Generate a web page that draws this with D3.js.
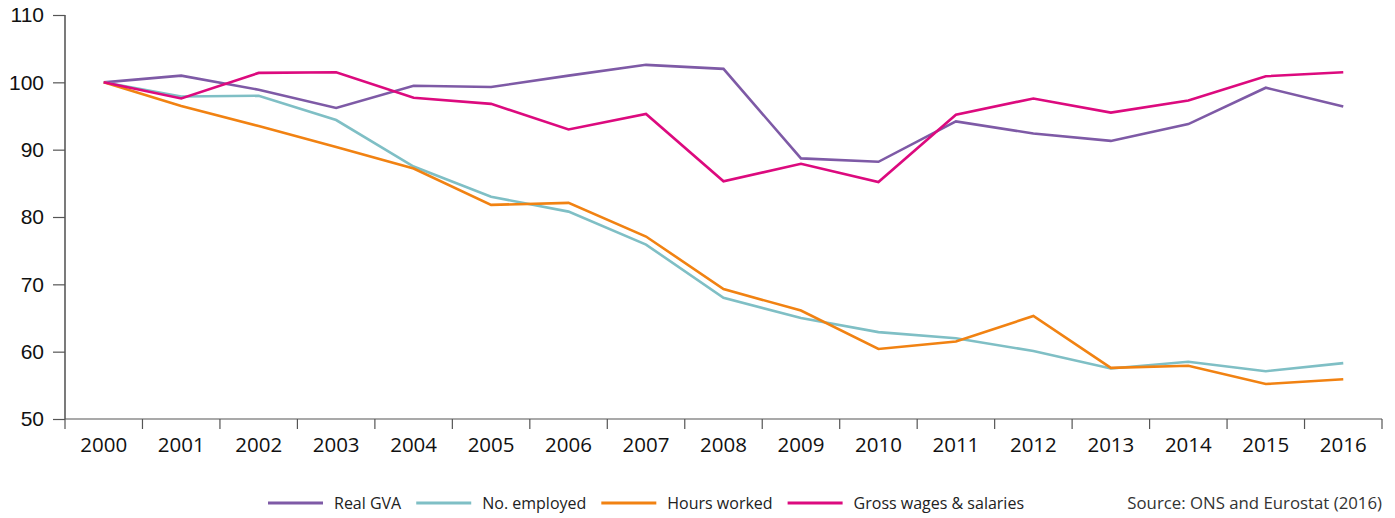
<!DOCTYPE html>
<html>
<head>
<meta charset="utf-8">
<script src="https://cdn.jsdelivr.net/npm/d3@7"></script>
<style>
  html, body { margin: 0; padding: 0; background: #fff; }
  svg { display: block; font-family: "Open Sans", "Noto Sans", sans-serif; }
</style>
</head>
<body>
<svg id="chart" width="1395" height="518"></svg>
<script>
// Index values, 2000 = 100
const years = ["2000","2001","2002","2003","2004","2005","2006","2007","2008",
               "2009","2010","2011","2012","2013","2014","2015","2016"];
const realGVA     = [100, 101.0, 98.9, 96.2, 99.5, 99.3, 101.0, 102.6, 102.0, 88.7, 88.2, 94.2, 92.4, 91.3, 93.8, 99.2, 96.4];
const noEmployed  = [100, 97.9, 98.0, 94.4, 87.5, 83.0, 80.8, 75.9, 68.0, 65.0, 62.9, 62.0, 60.1, 57.5, 58.5, 57.1, 58.3];
const hoursWorked = [100, 96.5, 93.5, 90.4, 87.2, 81.8, 82.1, 77.1, 69.3, 66.1, 60.4, 61.5, 65.3, 57.6, 57.9, 55.2, 55.9];
const grossWages  = [100, 97.6, 101.4, 101.5, 97.7, 96.8, 93.0, 95.3, 85.3, 87.9, 85.2, 95.2, 97.6, 95.5, 97.3, 100.9, 101.5];
const yTicks = [50, 60, 70, 80, 90, 100, 110];
const seriesNames = ["Real GVA", "No. employed", "Hours worked", "Gross wages & salaries"];
const sourceNote = "Source: ONS and Eurostat (2016)";

const series = [
  { name: seriesNames[0], values: realGVA,     color: "#7e5aa6" },
  { name: seriesNames[1], values: noEmployed,  color: "#7fbfc5" },
  { name: seriesNames[2], values: hoursWorked, color: "#f18212" },
  { name: seriesNames[3], values: grossWages,  color: "#dc0a7e" }
];

const svg = d3.select("#chart");
const plotLeft = 65, plotRight = 1382, plotTop = 15, plotBottom = 419;

const x = d3.scaleBand().domain(years).range([plotLeft, plotRight]).paddingInner(0).paddingOuter(0);
const y = d3.scaleLinear().domain([50, 110]).range([plotBottom, plotTop]);

// Y axis
const yAxis = svg.append("g").attr("transform", `translate(${plotLeft},0)`)
  .call(d3.axisLeft(y).tickValues(yTicks).tickSize(12).tickPadding(9).tickFormat(d3.format("d")));
yAxis.select(".domain").attr("stroke", "#222").attr("stroke-width", 1.2).attr("d", `M0,${plotTop}V${plotBottom}`);
yAxis.selectAll(".tick line").attr("stroke", "#555").attr("stroke-width", 1.2);
yAxis.selectAll(".tick text").attr("fill", "#111").style("font-size", "21px");

// X axis: ticks sit on category boundaries
const xAxisG = svg.append("g").attr("transform", `translate(0,${plotBottom})`);
xAxisG.append("line").attr("x1", plotLeft).attr("x2", plotRight).attr("y1", 0).attr("y2", 0)
  .attr("stroke", "#555").attr("stroke-width", 1.2);
const boundaries = years.map(d => x(d)).concat([x(years[years.length - 1]) + x.bandwidth()]);
xAxisG.selectAll("line.tick").data(boundaries).join("line")
  .attr("class", "tick")
  .attr("x1", d => d).attr("x2", d => d).attr("y1", 0).attr("y2", 10)
  .attr("stroke", "#555").attr("stroke-width", 1.2);
xAxisG.selectAll("text").data(years).join("text")
  .attr("x", d => x(d) + x.bandwidth() / 2)
  .attr("y", 33)
  .attr("text-anchor", "middle")
  .attr("fill", "#111")
  .style("font-size", "20.5px")
  .text(d => d);

// Lines
const line = d3.line()
  .x((d, i) => x(years[i]) + x.bandwidth() / 2)
  .y(d => y(d));

svg.append("g").selectAll("path").data(series).join("path")
  .attr("d", d => line(d.values))
  .attr("fill", "none")
  .attr("stroke", d => d.color)
  .attr("stroke-width", 2.6)
  .attr("stroke-linejoin", "miter");

// Legend
const legend = svg.append("g");
let lx = 268;
const ly = 503;
series.forEach(s => {
  legend.append("line")
    .attr("x1", lx).attr("x2", lx + 55).attr("y1", ly).attr("y2", ly)
    .attr("stroke", s.color).attr("stroke-width", 3);
  const t = legend.append("text")
    .attr("x", lx + 66).attr("y", ly + 6)
    .attr("fill", "#222")
    .style("font-size", "16px")
    .text(s.name);
  lx = lx + 66 + t.node().getComputedTextLength() + 15;
});

svg.append("text")
  .attr("x", plotRight).attr("y", ly + 6)
  .attr("text-anchor", "end")
  .attr("fill", "#333")
  .style("font-size", "16.8px")
  .text(sourceNote);
</script>
</body>
</html>
